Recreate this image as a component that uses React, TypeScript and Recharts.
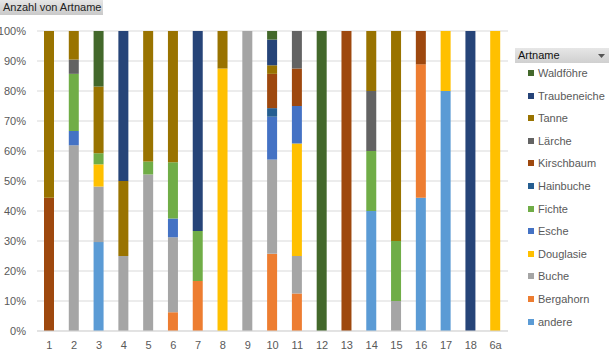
import React from "react";
import { BarChart, Bar, XAxis, YAxis, CartesianGrid } from "recharts";

// Kategorien (Bestandesnummern)
const categories = ["1", "2", "3", "4", "5", "6", "7", "8", "9", "10", "11", "12", "13", "14", "15", "16", "17", "18", "6a"];

// Anzahl je Art und Kategorie (gleiche Reihenfolge wie categories)
const andere = [0, 0, 8, 0, 0, 0, 0, 0, 0, 0, 0, 0, 0, 2, 0, 4, 4, 0, 0];
const bergahorn = [0, 0, 0, 0, 0, 1, 1, 0, 0, 9, 1, 0, 0, 0, 0, 4, 0, 0, 0];
const buche = [0, 13, 5, 1, 12, 4, 0, 0, 1, 11, 1, 0, 0, 0, 1, 0, 0, 0, 0];
const douglasie = [0, 0, 2, 0, 0, 0, 0, 7, 0, 0, 3, 0, 0, 0, 0, 0, 1, 0, 1];
const esche = [0, 1, 0, 0, 0, 1, 0, 0, 0, 5, 1, 0, 0, 0, 0, 0, 0, 0, 0];
const fichte = [0, 4, 1, 0, 1, 3, 1, 0, 0, 0, 0, 0, 0, 1, 2, 0, 0, 0, 0];
const hainbuche = [0, 0, 0, 0, 0, 0, 0, 0, 0, 1, 0, 0, 0, 0, 0, 0, 0, 0, 0];
const kirschbaum = [4, 0, 0, 0, 0, 0, 0, 0, 0, 4, 1, 0, 1, 0, 0, 1, 0, 0, 0];
const laerche = [0, 1, 0, 0, 0, 0, 0, 0, 0, 0, 1, 0, 0, 1, 0, 0, 0, 0, 0];
const tanne = [5, 2, 6, 1, 10, 7, 0, 1, 0, 1, 0, 0, 0, 1, 7, 0, 0, 0, 0];
const traubeneiche = [0, 0, 0, 2, 0, 0, 4, 0, 0, 3, 0, 0, 0, 0, 0, 0, 0, 1, 0];
const waldfoehre = [0, 0, 5, 0, 0, 0, 0, 0, 0, 1, 0, 1, 0, 0, 0, 0, 0, 0, 0];

// von unten nach oben gestapelt
const species = [
  { key: "andere", values: andere, color: "#5B9BD5" },
  { key: "Bergahorn", values: bergahorn, color: "#ED7D31" },
  { key: "Buche", values: buche, color: "#A5A5A5" },
  { key: "Douglasie", values: douglasie, color: "#FFC000" },
  { key: "Esche", values: esche, color: "#4472C4" },
  { key: "Fichte", values: fichte, color: "#70AD47" },
  { key: "Hainbuche", values: hainbuche, color: "#255E91" },
  { key: "Kirschbaum", values: kirschbaum, color: "#9E480E" },
  { key: "Lärche", values: laerche, color: "#636363" },
  { key: "Tanne", values: tanne, color: "#997300" },
  { key: "Traubeneiche", values: traubeneiche, color: "#264478" },
  { key: "Waldföhre", values: waldfoehre, color: "#43682B" },
];

const yTicks = [0, 0.1, 0.2, 0.3, 0.4, 0.5, 0.6, 0.7, 0.8, 0.9, 1];

const data = categories.map((c, i) => {
  const row: Record<string, any> = { name: c };
  species.forEach((s) => {
    row[s.key] = s.values[i];
  });
  return row;
});

const font = "'Liberation Sans', Arial, sans-serif";

export default function App() {
  return (
    <div style={{ position: "absolute", left: 0, top: 0, width: 609, height: 359, background: "#fff", fontFamily: font }}>
      <BarChart
        width={609}
        height={359}
        data={data}
        stackOffset="expand"
        margin={{ top: 31, right: 101, bottom: 0, left: 0 }}
      >
        <CartesianGrid vertical={false} stroke="#d9d9d9" />
        <XAxis
          dataKey="name"
          tickLine={false}
          axisLine={{ stroke: "#d9d9d9" }}
          tick={{ fill: "#595959", fontSize: 11, fontFamily: font }}
          height={28}
          tickMargin={4}
          interval={0}
        />
        <YAxis
          width={37}
          domain={[0, 1]}
          ticks={yTicks}
          tickFormatter={(v) => `${Math.round(v * 100)}%`}
          tickLine={false}
          axisLine={false}
          tick={{ fill: "#595959", fontSize: 11, fontFamily: font }}
          tickMargin={5}
        />
        {species.map((s) => (
          <Bar key={s.key} dataKey={s.key} stackId="a" fill={s.color} barSize={10} isAnimationActive={false} />
        ))}
      </BarChart>

      {/* Feldschaltfläche oben links */}
      <div
        style={{
          position: "absolute",
          left: 0,
          top: 0,
          width: 103,
          height: 15,
          background: "linear-gradient(#e6e6e6, #c9c9c9)",
          fontSize: 11,
          lineHeight: "15px",
          color: "#222",
          paddingLeft: 3,
          boxSizing: "border-box",
          whiteSpace: "nowrap",
        }}
      >
        Anzahl von Artname
      </div>

      {/* Legende */}
      <div style={{ position: "absolute", left: 515, top: 48, width: 94 }}>
        <div
          style={{
            height: 15,
            background: "linear-gradient(#e6e6e6, #d0d0d0)",
            fontSize: 11,
            lineHeight: "15px",
            color: "#111",
            paddingLeft: 3,
            position: "relative",
          }}
        >
          Artname
          <svg width={7} height={4} style={{ position: "absolute", right: 4, top: 6 }}>
            <path d="M0 0 L7 0 L3.5 4 Z" fill="#555" />
          </svg>
        </div>
        {species
          .slice()
          .reverse()
          .map((s, i) => (
            <div
              key={s.key}
              style={{
                position: "absolute",
                left: 13,
                top: 18 + i * 22.6,
                height: 14,
                display: "flex",
                alignItems: "center",
                fontSize: 11,
                color: "#595959",
                whiteSpace: "nowrap",
              }}
            >
              <span style={{ width: 6, height: 6, background: s.color, marginRight: 4, display: "inline-block" }} />
              {s.key}
            </div>
          ))}
      </div>
    </div>
  );
}
